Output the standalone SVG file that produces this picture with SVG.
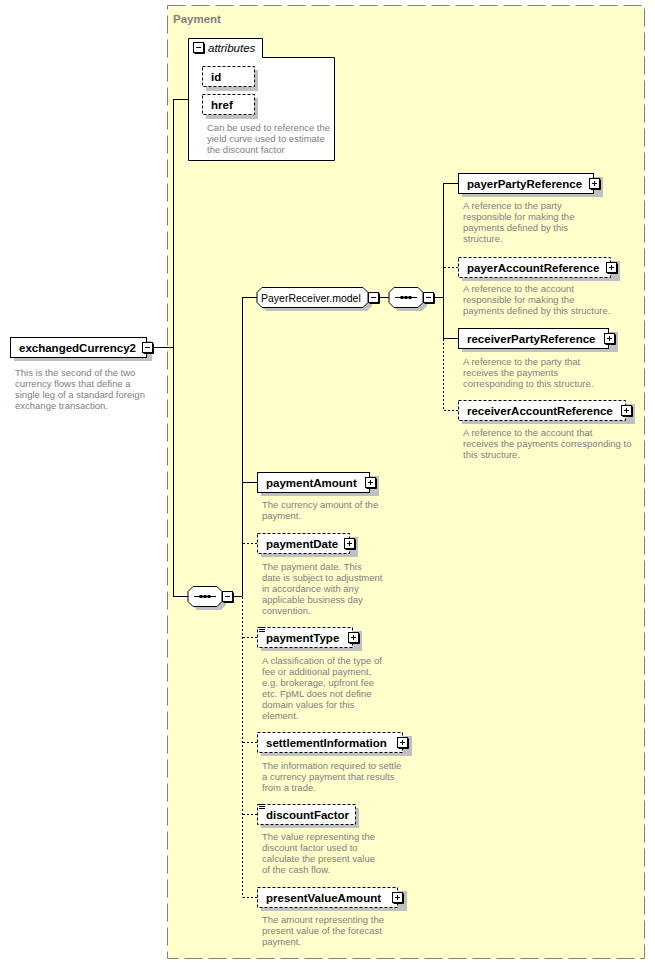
<svg xmlns="http://www.w3.org/2000/svg" xmlns:xlink="http://www.w3.org/1999/xlink" width="655" height="964" viewBox="0 0 655 964">
<style>
.t{font-family:"Liberation Sans",Arial,sans-serif;font-size:11.5px;font-weight:bold;fill:#000}
.r{font-family:"Liberation Sans",Arial,sans-serif;font-size:10.5px;fill:#000}
.d{font-family:"Liberation Sans",Arial,sans-serif;font-size:9.5px;fill:#808080}
.el{fill:#fff;stroke:#000;stroke-width:1}
.opt{fill:#fff;stroke:#000;stroke-width:1;stroke-dasharray:3,2}
.sh{fill:#c0c0c0}
.ln{fill:none;stroke:#000;stroke-width:1}
.dl{fill:none;stroke:#000;stroke-width:1;stroke-dasharray:2,2}
</style>
<defs>
<g id="plus"><rect x="0.5" y="0.5" width="10" height="10" fill="#fff" stroke="#000"/><path d="M11.5,1.5V11.5H1.5" fill="none" stroke="#000"/><path d="M3,5.5H8M5.5,3V8" stroke="#000"/></g>
<g id="minus"><rect x="0.5" y="0.5" width="10" height="10" fill="#fff" stroke="#000"/><path d="M11.5,1.5V11.5H1.5" fill="none" stroke="#000"/><path d="M3,5.5H8" stroke="#000"/></g>
<g id="simple"><path d="M0,0.5H6M0,2.5H6M0,4.5H6" stroke="#000"/></g>
<g id="seqicon"><path d="M-11,0.5H11" stroke="#000"/><rect x="-5.5" y="-1" width="3" height="3" fill="#000"/><rect x="-1.5" y="-1" width="3" height="3" fill="#000"/><rect x="2.5" y="-1" width="3" height="3" fill="#000"/></g>
</defs>
<rect x="0" y="0" width="655" height="964" fill="#fff"/>
<g id="Payment">
<rect x="167.5" y="5.5" width="477" height="953" fill="#ffffcc" stroke="#808080" stroke-width="1" stroke-dasharray="18,6"/>
<text x="173" y="23" font-family="Liberation Sans,Arial,sans-serif" font-size="11.5" font-weight="bold" fill="#808080">Payment</text>
</g>
<g id="connectors">
<path class="ln" d="M152,347.5H173.5M173.5,99V596M173,99.5H188M173,596.5H188M233,596.5H242.5M242.5,297V596.5M242,297.5H257M242,482.5H257M379,297.5H389M434,297.5H443.5M443.5,183V338.5M443,183.5H458M443,338.5H458"/>
<path class="dl" d="M242.5,597V897.5M243,543.5H257M243,637.5H257M243,742.5H257M243,814.5H257M243,897.5H257M443.5,339V410.5M444,267.5H458M444,410.5H458"/>
</g>
<g id="exchangedCurrency2">
<rect class="sh" x="14" y="341" width="138" height="20"/>
<rect class="el" x="10.5" y="337.5" width="136" height="20"/>
<text class="t" x="19" y="351.5">exchangedCurrency2</text>
<use xlink:href="#minus" x="142" y="342"/>
<text class="d" x="15" y="376">This is the second of the two</text>
<text class="d" x="15" y="387">currency flows that define a</text>
<text class="d" x="15" y="398">single leg of a standard foreign</text>
<text class="d" x="15" y="409">exchange transaction.</text>
</g>
<g id="attributes">
<path class="el" d="M188.5,38.5H262.5V57.5H334.5V160.5H188.5Z"/>
<use xlink:href="#minus" x="193" y="42"/>
<text x="208" y="52" font-family="Liberation Sans,Arial,sans-serif" font-size="11.5" font-style="italic" fill="#000">attributes</text>
<g id="id">
<rect class="sh" x="206" y="70" width="52" height="21"/>
<rect class="opt" x="202.5" y="66.5" width="52" height="20"/>
<text class="t" x="211" y="81">id</text>
</g>
<g id="href">
<rect class="sh" x="206" y="98" width="52" height="21"/>
<rect class="opt" x="202.5" y="94.5" width="52" height="20"/>
<text class="t" x="211" y="109">href</text>
</g>
<text class="d" x="207" y="130.5">Can be used to reference the</text>
<text class="d" x="207" y="141.5">yield curve used to estimate</text>
<text class="d" x="207" y="152.5">the discount factor</text>
</g>
<g id="PayerReceiver.model">
<path class="sh" d="M266,291H367L372,296V306L367,311H266L261,306V296Z"/>
<path class="el" d="M262,287.5H363L368,292.5V302.5L363,307.5H262L257,302.5V292.5Z"/>
<text class="r" x="261" y="301.5">PayerReceiver.model</text>
<use xlink:href="#minus" x="368" y="292"/>
</g>
<g id="sequence1">
<path class="sh" d="M398,291H422L427,296V306L422,311H398L393,306V296Z"/>
<path class="el" d="M394,287.5H418L423,292.5V302.5L418,307.5H394L389,302.5V292.5Z"/>
<use xlink:href="#seqicon" x="406" y="297"/>
<use xlink:href="#minus" x="423" y="292"/>
</g>
<g id="sequence2">
<path class="sh" d="M197,590H221L226,595V605L221,610H197L192,605V595Z"/>
<path class="el" d="M193,586.5H217L222,591.5V601.5L217,606.5H193L188,601.5V591.5Z"/>
<use xlink:href="#seqicon" x="205" y="596"/>
<use xlink:href="#minus" x="222" y="591"/>
</g>
<g id="payerPartyReference">
<rect class="sh" x="462" y="177" width="141" height="20"/>
<rect class="el" x="458.5" y="173.5" width="135" height="20"/>
<text class="t" x="467" y="187.5">payerPartyReference</text>
<use xlink:href="#plus" x="589" y="178"/>
<text class="d" x="463" y="209">A reference to the party</text>
<text class="d" x="463" y="220">responsible for making the</text>
<text class="d" x="463" y="231">payments defined by this</text>
<text class="d" x="463" y="242">structure.</text>
</g>
<g id="payerAccountReference">
<rect class="sh" x="462" y="261" width="158" height="20"/>
<rect class="opt" x="458.5" y="257.5" width="152" height="20"/>
<text class="t" x="467" y="271.5">payerAccountReference</text>
<use xlink:href="#plus" x="606" y="262"/>
<text class="d" x="463" y="292">A reference to the account</text>
<text class="d" x="463" y="303">responsible for making the</text>
<text class="d" x="463" y="314">payments defined by this structure.</text>
</g>
<g id="receiverPartyReference">
<rect class="sh" x="462" y="332" width="156" height="20"/>
<rect class="el" x="458.5" y="328.5" width="150" height="20"/>
<text class="t" x="467" y="342.5">receiverPartyReference</text>
<use xlink:href="#plus" x="604" y="333"/>
<text class="d" x="463" y="364.5">A reference to the party that</text>
<text class="d" x="463" y="375.5">receives the payments</text>
<text class="d" x="463" y="386.5">corresponding to this structure.</text>
</g>
<g id="receiverAccountReference">
<rect class="sh" x="462" y="404" width="173" height="20"/>
<rect class="opt" x="458.5" y="400.5" width="167" height="20"/>
<text class="t" x="467" y="414.5">receiverAccountReference</text>
<use xlink:href="#plus" x="621" y="405"/>
<text class="d" x="463" y="436">A reference to the account that</text>
<text class="d" x="463" y="447">receives the payments corresponding to</text>
<text class="d" x="463" y="458">this structure.</text>
</g>
<g id="paymentAmount">
<rect class="sh" x="261" y="476" width="118" height="20"/>
<rect class="el" x="257.5" y="472.5" width="112" height="20"/>
<text class="t" x="266" y="486.5">paymentAmount</text>
<use xlink:href="#plus" x="365" y="477"/>
<text class="d" x="262" y="508">The currency amount of the</text>
<text class="d" x="262" y="519">payment.</text>
</g>
<g id="paymentDate">
<rect class="sh" x="261" y="537" width="97" height="20"/>
<rect class="opt" x="257.5" y="533.5" width="92" height="20"/>
<text class="t" x="266" y="547.5">paymentDate</text>
<use xlink:href="#plus" x="344" y="538"/>
<text class="d" x="262" y="569.5">The payment date. This</text>
<text class="d" x="262" y="580.5">date is subject to adjustment</text>
<text class="d" x="262" y="591.5">in accordance with any</text>
<text class="d" x="262" y="602.5">applicable business day</text>
<text class="d" x="262" y="613.5">convention.</text>
</g>
<g id="paymentType">
<rect class="sh" x="261" y="631" width="101" height="20"/>
<rect class="opt" x="257.5" y="627.5" width="95" height="20"/>
<use xlink:href="#simple" x="259" y="627"/>
<text class="t" x="266" y="641.5">paymentType</text>
<use xlink:href="#plus" x="348" y="632"/>
<text class="d" x="262" y="663.5">A classification of the type of</text>
<text class="d" x="262" y="674.5">fee or additional payment,</text>
<text class="d" x="262" y="685.5">e.g. brokerage, upfront fee</text>
<text class="d" x="262" y="696.5">etc. FpML does not define</text>
<text class="d" x="262" y="707.5">domain values for this</text>
<text class="d" x="262" y="718.5">element.</text>
</g>
<g id="settlementInformation">
<rect class="sh" x="261" y="736" width="151" height="20"/>
<rect class="opt" x="257.5" y="732.5" width="145" height="20"/>
<text class="t" x="266" y="746.5">settlementInformation</text>
<use xlink:href="#plus" x="397" y="737"/>
<text class="d" x="262" y="768.5">The information required to settle</text>
<text class="d" x="262" y="779.5">a currency payment that results</text>
<text class="d" x="262" y="790.5">from a trade.</text>
</g>
<g id="discountFactor">
<rect class="sh" x="261" y="808" width="98" height="20"/>
<rect class="opt" x="257.5" y="804.5" width="98" height="20"/>
<use xlink:href="#simple" x="259" y="804"/>
<text class="t" x="266" y="818.5">discountFactor</text>
<text class="d" x="262" y="840">The value representing the</text>
<text class="d" x="262" y="851">discount factor used to</text>
<text class="d" x="262" y="862">calculate the present value</text>
<text class="d" x="262" y="873">of the cash flow.</text>
</g>
<g id="presentValueAmount">
<rect class="sh" x="261" y="891" width="146" height="20"/>
<rect class="opt" x="257.5" y="887.5" width="140" height="20"/>
<text class="t" x="266" y="901.5">presentValueAmount</text>
<use xlink:href="#plus" x="392" y="892"/>
<text class="d" x="262" y="922.5">The amount representing the</text>
<text class="d" x="262" y="933.5">present value of the forecast</text>
<text class="d" x="262" y="944.5">payment.</text>
</g>
</svg>
